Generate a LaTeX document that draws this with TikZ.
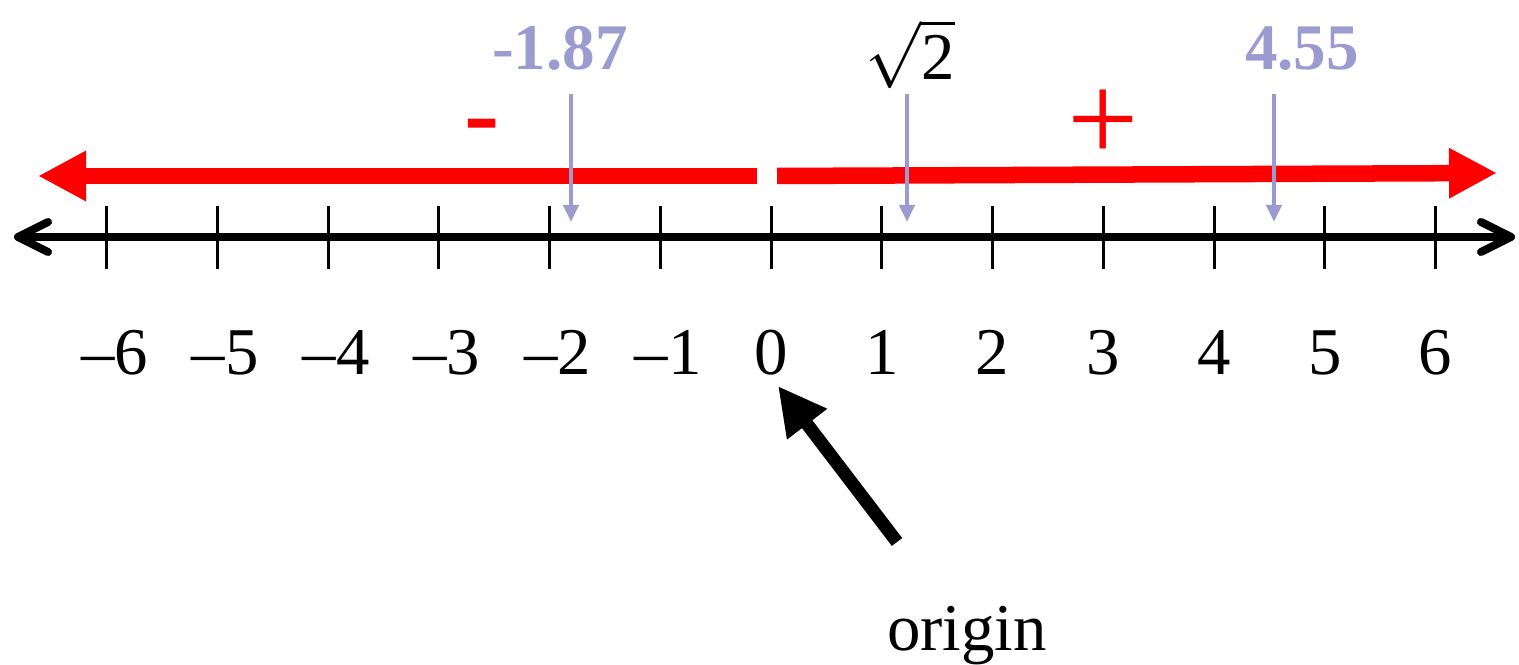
\RequirePackage{fix-cm}
\documentclass[tikz,border=0pt]{standalone}
\usepackage{fontspec}
\setmainfont{Liberation Serif}
\usepackage{tikz}
\usetikzlibrary{arrows.meta}
\definecolor{lilaMarca}{RGB}{155,155,208}
\definecolor{rojoRecta}{RGB}{255,0,0}
\tikzset{
  nl/axis/.style={line width=0.08cm, draw=black,
    {Straight Barb[length=0.3cm,width=0.3cm,round]}-{Straight Barb[length=0.3cm,width=0.3cm,round]}},
  nl/tick/.style={line width=0.03cm, draw=black},
  nl/num/.style={font=\fontsize{19}{23}\selectfont, anchor=base, inner sep=0pt},
  nl/ray/.style={line width=0.165cm, draw=rojoRecta,
    -{Triangle[length=0.48cm,width=0.47cm]}},
  nl/sign/.style={text=rojoRecta, inner sep=0pt, anchor=base},
  nl/mark/.style={-{Triangle[length=0.17cm,width=0.15cm]}, line width=0.04cm,
    draw=lilaMarca},
  nl/val/.style={font=\fontsize{18.5}{22}\selectfont\bfseries, text=lilaMarca,
    anchor=base, inner sep=0pt},
  nl/orig/.style={line width=0.13cm, draw=black,
    -{Triangle[length=0.48cm,width=0.47cm]}}
}

\begin{document}
\begin{tikzpicture}[x=0.01cm, y=-0.01cm]
  \useasboundingbox (0,0) rectangle (1519,665);

  % number line
  \coordinate (axL) at (14,237);
  \coordinate (axR) at (1515,237);
  \draw[nl/axis] (axL) -- (axR);
  \foreach \k in {-6,...,6}{
    \pgfmathsetmacro\tx{771+110.75*\k}
    \pgfmathsetmacro\lx{\tx+(\k<0)*8}
    \pgfmathtruncatemacro\m{abs(\k)}
    \draw[nl/tick] (\tx,206) -- (\tx,269);
    \node[nl/num] (n\m\ifnum\k<0 m\fi) at (\lx,375) {\ifnum\k<0 –\fi\m};
  }

  % red rays
  \coordinate (negS) at (757,176);
  \coordinate (negE) at (38,176);
  \coordinate (posS) at (777,176);
  \coordinate (posE) at (1497,173);
  \draw[nl/ray] (negS) -- (negE);
  \draw[nl/ray] (posS) -- (posE);
  \node[nl/sign, font=\fontsize{30}{34}\selectfont\bfseries] (minus) at (482,149) {-};
  \node[nl/sign, font=\fontsize{36}{40}\selectfont] (plus) at (1103,162) {+};

  % marked values
  \node[nl/val] (v1) at (560,70) {-1.87};
  \node[font=\fontsize{19}{23}\selectfont, anchor=base, inner sep=0pt] (v2) at (910,80) {$\sqrt{\mathrm{2}}$};
  \node[nl/val] (v3) at (1302,70) {4.55};
  \coordinate (p1) at (571,222);
  \coordinate (p2) at (907,222);
  \coordinate (p3) at (1274,222);
  \draw[nl/mark] (571,94) -- (p1);
  \draw[nl/mark] (907,94) -- (p2);
  \draw[nl/mark] (1274,94) -- (p3);

  % origin
  \node[font=\fontsize{19}{23}\selectfont, anchor=base, inner sep=0pt] (org) at (967,651) {origin};
  \coordinate (oT) at (897,542);
  \coordinate (oH) at (778,386);
  \draw[nl/orig] (oT) -- (oH);
\end{tikzpicture}
\end{document}
